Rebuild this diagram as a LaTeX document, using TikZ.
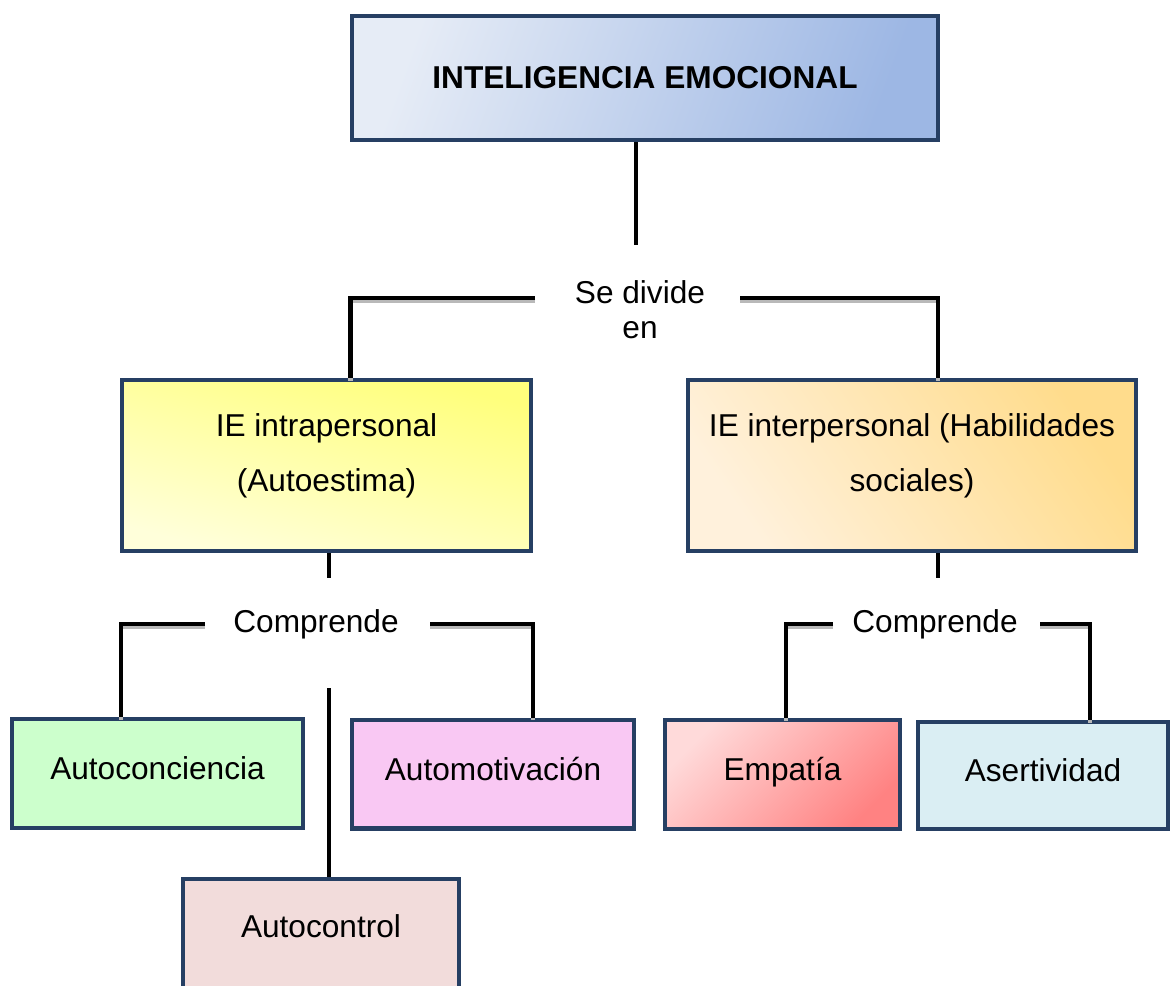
\documentclass[tikz,border=0pt]{standalone}
\usepackage{fontspec}
\setmainfont{Liberation Sans}
\definecolor{frame}{HTML}{263F63}
\definecolor{titleA}{HTML}{E6ECF6}
\definecolor{titleB}{HTML}{9DB7E4}
\definecolor{intraA}{HTML}{FFFF7C}
\definecolor{intraB}{HTML}{FFFFDA}
\definecolor{interA}{HTML}{FFDC8C}
\definecolor{interB}{HTML}{FFF1DC}
\definecolor{concFill}{HTML}{CCFFCC}
\definecolor{motivFill}{HTML}{F9C8F3}
\definecolor{ctrlFill}{HTML}{F2DCDB}
\definecolor{empA}{HTML}{FFDADA}
\definecolor{empB}{HTML}{FF8282}
\definecolor{aserFill}{HTML}{DAEEF3}
\begin{document}
\begin{tikzpicture}[
    x=0.02cm, y=-0.02cm,
    box/.style={rectangle, draw=frame, line width=2.3pt, align=center, font=\fontsize{18}{31}\selectfont},
    bigbox/.style={box, minimum height=3.42cm, text depth=15pt},
    smallbox/.style={box, minimum height=2.18cm, text depth=6pt},
    tag/.style={align=center, inner sep=0pt, font=\fontsize{18}{20}\selectfont},
    stem/.style={line width=2.8pt},
    link/.style={line width=2.8pt, line join=miter,
        preaction={draw=gray!55, line width=2.8pt, transform canvas={yshift=-1.6pt}}}
]
    \useasboundingbox (0,0) rectangle (1170,985);

    % top
    \node[box, minimum width=11.72cm, minimum height=2.48cm, top color=titleA, bottom color=titleB, shading angle=70] (title) at (645,78) {\textbf{INTELIGENCIA EMOCIONAL}};
    \node[tag] (divide) at (640,310) {Se divide\\en};
    \coordinate (divtop) at (636,245);
    \coordinate (divL) at (535,298);
    \coordinate (divR) at (740,298);

    % second level
    \node[bigbox, minimum width=8.18cm, top color=intraA, bottom color=intraB, shading angle=-15] (intra) at (326.5,465.5) {IE intrapersonal\\(Autoestima)};
    \node[bigbox, minimum width=8.96cm, top color=interA, bottom color=interB, shading angle=-55] (inter) at (912,465.5) {IE interpersonal (Habilidades\\sociales)};

    \draw[stem] (title.south -| divtop) -- (divtop);
    \draw[link] (divL) -| ([xshift=0.48cm]intra.north);
    \draw[link] (divR) -| ([xshift=0.52cm]inter.north);

    % intrapersonal branch
    \node[tag] (comp1) at (316,624) {Comprende};
    \coordinate (c1top) at (329,578);
    \coordinate (c1bot) at (329,688);
    \coordinate (c1L) at (205,624);
    \coordinate (c1R) at (430,624);
    \node[smallbox, minimum width=5.82cm, fill=concFill] (conc) at (157.5,773.5) {Autoconciencia};
    \node[smallbox, minimum width=5.64cm, fill=motivFill] (motiv) at (493,774) {Automotivación};
    \node[smallbox, minimum width=5.52cm, minimum height=2.5cm, fill=ctrlFill, text depth=17pt] (ctrl) at (321,941) {Autocontrol};

    \draw[stem] (c1top |- intra.south) -- (c1top);
    \draw[link] (c1L) -| ([xshift=-0.73cm]conc.north);
    \draw[link] (c1R) -| ([xshift=0.8cm]motiv.north);
    \draw[stem] (c1bot) -- (c1bot |- ctrl.north);

    % interpersonal branch
    \node[tag] (comp2) at (935,624) {Comprende};
    \coordinate (c2top) at (938,578);
    \coordinate (c2L) at (833,624);
    \coordinate (c2R) at (1040,624);
    \node[smallbox, minimum width=4.7cm, top color=empA, bottom color=empB, shading angle=45] (emp) at (782.5,774.5) {Empatía};
    \node[smallbox, minimum width=5cm, minimum height=2.14cm, fill=aserFill] (aser) at (1043,775.5) {Asertividad};

    \draw[stem] (c2top |- inter.south) -- (c2top);
    \draw[link] (c2L) -| ([xshift=0.07cm]emp.north);
    \draw[link] (c2R) -| ([xshift=0.94cm]aser.north);
\end{tikzpicture}
\end{document}
